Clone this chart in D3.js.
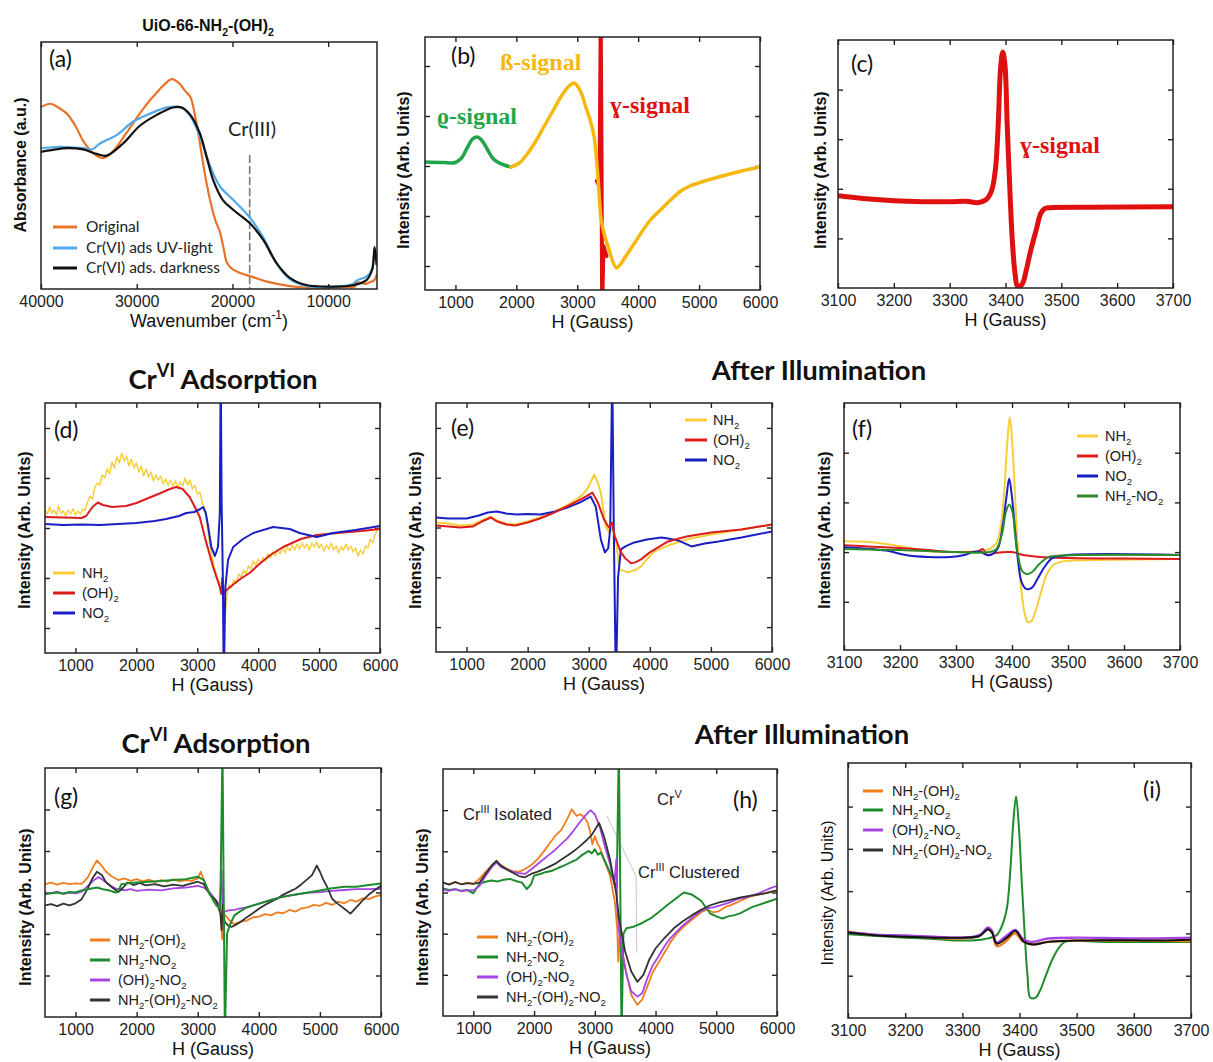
<!DOCTYPE html>
<html>
<head>
<meta charset="utf-8">
<script src="https://cdn.jsdelivr.net/npm/d3@7"></script>
<style>
  body { margin: 0; background: #fff; }
  svg { display: block; }
</style>
</head>
<body>
<div id="chart"></div>
<script>
// ---- (a) UV-vis, [wavenumber, absorbance 0..1]
const aOriginal = [[40000,0.737],[39000,0.75],[38200,0.735],[37300,0.71],[36400,0.66],[35600,0.6],[34560,0.55],[33500,0.53],[32800,0.545],[32100,0.575],[31200,0.625],[30400,0.67],[29500,0.72],[28600,0.765],[27800,0.8],[27200,0.825],[26300,0.85],[25500,0.83],[24900,0.8],[24430,0.78],[23700,0.66],[23400,0.59],[22900,0.47],[22340,0.36],[21800,0.28],[21300,0.23],[20900,0.16],[20560,0.105],[20000,0.08],[19200,0.065],[18000,0.05],[16400,0.03],[14000,0.012],[12000,0.005],[10000,0.005],[8000,0.008],[7200,0.01],[7050,0.025],[6500,0.025],[6100,0.02],[5600,0.028],[5200,0.035],[4900,0.06]];
const aUVlight = [[40000,0.57],[38500,0.575],[37300,0.575],[35600,0.57],[34700,0.565],[33800,0.59],[32100,0.623],[30400,0.677],[28600,0.71],[26800,0.735],[25400,0.735],[24400,0.7],[23400,0.617],[22300,0.495],[21300,0.415],[19900,0.36],[18200,0.29],[16800,0.21],[15400,0.105],[14000,0.04],[12300,0.012],[10500,0.008],[9000,0.01],[7400,0.02],[7000,0.035],[6000,0.05],[5400,0.08],[5150,0.15],[4900,0.12]];
const aDarkness = [[40000,0.555],[38500,0.565],[37300,0.57],[35600,0.565],[34200,0.547],[33150,0.54],[31400,0.59],[29700,0.66],[27900,0.705],[26200,0.735],[25300,0.735],[24400,0.705],[23400,0.63],[22700,0.535],[22000,0.44],[21000,0.36],[19900,0.32],[18200,0.267],[16800,0.2],[15400,0.105],[14000,0.045],[12300,0.016],[9500,0.01],[7400,0.015],[6000,0.036],[5400,0.08],[5150,0.17],[4950,0.1]];
const aCrIII = [[18200,0.54],[18200,0]];

// ---- (b) EPR signal decomposition, [H (G), intensity]
const bRho = [[500,0.08],[800,0.07],[1000,0.07],[1100,0.16],[1200,0.38],[1280,0.54],[1360,0.58],[1440,0.5],[1530,0.32],[1610,0.16],[1690,0.08],[1800,0.02],[1910,-0.02]];
const bBeta = [[1910,-0.02],[2050,0.06],[2190,0.26],[2320,0.5],[2450,0.78],[2600,1.1],[2730,1.38],[2850,1.58],[2950,1.66],[3050,1.5],[3140,1.18],[3220,0.88],[3277,0.58],[3343,-0.28],[3393,-1.08],[3450,-1.4],[3508,-1.62],[3640,-2.04],[3700,-1.98],[3800,-1.8],[3940,-1.54],[4200,-1.08],[4400,-0.84],[4550,-0.66],[4700,-0.5],[4850,-0.4],[5040,-0.32],[5320,-0.22],[5700,-0.1],[6000,-0.02]];
const bGamma = [[3320,-0.3],[3365,-0.4],[3385,2.9],[3398,0.2],[3408,-2.9],[3430,-1.6],[3480,-1.8]];

// ---- (c) gamma signal
const cGamma = [[3100,-0.14],[3150,-0.2],[3200,-0.24],[3250,-0.26],[3300,-0.26],[3330,-0.25],[3350,-0.28],[3365,-0.22],[3375,-0.04],[3382,0.4],[3387,1.3],[3391,2.4],[3395,2.76],[3399,2.5],[3403,1.3],[3407,0.2],[3412,-1.0],[3417,-1.7],[3422,-1.98],[3430,-1.92],[3437,-1.65],[3445,-1.25],[3455,-0.83],[3463,-0.5],[3470,-0.4],[3480,-0.38],[3550,-0.37],[3700,-0.36]];

// ---- (d) Cr(VI) adsorption, mono-functionalised
const dNH2 = [[500,0.36],[540,0.28],[575,0.42],[610,0.3],[650,0.36],[690,0.26],[720,0.44],[760,0.3],[800,0.34],[840,0.24],[880,0.36],[920,0.28],[960,0.38],[1000,0.26],[1040,0.34],[1080,0.28],[1120,0.38],[1160,0.36],[1200,0.52],[1240,0.64],[1280,0.58],[1320,0.82],[1360,0.9],[1400,0.86],[1440,1.06],[1480,1.0],[1520,1.18],[1560,1.08],[1600,1.32],[1640,1.2],[1680,1.42],[1720,1.3],[1760,1.5],[1800,1.34],[1840,1.44],[1880,1.24],[1920,1.38],[1960,1.2],[2000,1.3],[2040,1.12],[2080,1.24],[2120,1.04],[2160,1.18],[2200,1.02],[2240,1.12],[2280,0.94],[2320,1.06],[2360,0.96],[2400,1.04],[2440,0.88],[2480,0.98],[2520,0.86],[2560,0.96],[2600,0.84],[2640,0.94],[2680,0.8],[2720,0.92],[2760,0.84],[2800,1.0],[2840,0.86],[2880,0.96],[2920,0.78],[2960,0.86],[3000,0.68],[3040,0.72],[3080,0.52],[3120,0.4],[3160,0.06],[3200,-0.3],[3240,-0.56],[3280,-0.78],[3320,-0.96],[3360,-1.08],[3400,-1.14],[3430,-1.5],[3460,-1.72],[3490,-1.3],[3520,-1.14],[3560,-1.2],[3600,-1.04],[3640,-1.1],[3680,-0.92],[3720,-0.98],[3760,-0.84],[3800,-0.92],[3840,-0.76],[3880,-0.82],[3920,-0.66],[3960,-0.74],[4000,-0.62],[4040,-0.7],[4080,-0.58],[4120,-0.66],[4160,-0.52],[4200,-0.6],[4240,-0.48],[4280,-0.56],[4320,-0.44],[4360,-0.52],[4400,-0.4],[4440,-0.5],[4480,-0.38],[4520,-0.46],[4560,-0.34],[4600,-0.44],[4640,-0.32],[4680,-0.42],[4720,-0.3],[4760,-0.4],[4800,-0.32],[4840,-0.44],[4880,-0.3],[4920,-0.38],[4960,-0.28],[5000,-0.4],[5040,-0.32],[5080,-0.46],[5120,-0.34],[5160,-0.42],[5200,-0.3],[5240,-0.44],[5280,-0.36],[5320,-0.5],[5360,-0.38],[5400,-0.44],[5440,-0.32],[5480,-0.44],[5520,-0.36],[5560,-0.48],[5600,-0.4],[5640,-0.56],[5680,-0.44],[5720,-0.52],[5760,-0.36],[5800,-0.4],[5840,-0.22],[5880,-0.3],[5920,-0.12],[5960,-0.04],[6000,0.1]];
const dOH2 = [[500,0.22],[800,0.21],[1100,0.2],[1175,0.24],[1280,0.42],[1367,0.51],[1450,0.46],[1600,0.42],[1833,0.44],[2000,0.5],[2200,0.6],[2400,0.7],[2550,0.78],[2655,0.82],[2760,0.78],[2875,0.62],[2960,0.42],[3040,0.22],[3150,-0.3],[3260,-0.78],[3370,-1.18],[3395,-1.32],[3410,-1.0],[3430,-1.32],[3480,-1.24],[3600,-1.12],[3730,-1.0],[3860,-0.9],[4000,-0.74],[4200,-0.54],[4410,-0.38],[4700,-0.22],[4960,-0.14],[5300,-0.1],[5700,-0.06],[6000,-0.02]];
const dNO2 = [[500,0.08],[800,0.06],[1100,0.07],[1400,0.06],[1700,0.08],[2000,0.1],[2300,0.14],[2490,0.18],[2700,0.24],[2820,0.3],[2950,0.32],[3050,0.38],[3095,0.42],[3140,0.3],[3180,0.02],[3230,-0.38],[3290,-0.56],[3340,-0.38],[3370,0.3],[3385,3.2],[3400,0.5],[3420,-1.0],[3435,-3.2],[3460,-1.2],[3505,-0.64],[3590,-0.38],[3750,-0.22],[3920,-0.1],[4245,0.02],[4520,-0.02],[4680,-0.1],[4960,-0.18],[5230,-0.1],[5600,-0.04],[6000,0.04]];

// ---- (e) after illumination, mono-functionalised
const eNH2 = [[500,0.1],[700,0.08],[900,0.04],[1100,0.06],[1250,0.14],[1400,0.22],[1500,0.14],[1650,0.08],[1800,0.06],[2000,0.12],[2200,0.2],[2400,0.3],[2600,0.42],[2800,0.56],[2900,0.66],[3000,0.82],[3088,1.06],[3150,0.9],[3198,0.7],[3280,0.02],[3335,-0.1],[3400,0.0],[3440,-0.2],[3480,-0.6],[3500,-0.84],[3637,-0.9],[3750,-0.86],[3857,-0.78],[3950,-0.64],[4077,-0.48],[4300,-0.36],[4600,-0.24],[5000,-0.14],[5300,-0.08],[5600,-0.02],[6000,0.06]];
const eOH2 = [[500,0.04],[700,0.02],[900,0.0],[1100,0.02],[1250,0.12],[1400,0.2],[1500,0.12],[1650,0.06],[1800,0.04],[2000,0.1],[2200,0.18],[2400,0.28],[2600,0.4],[2800,0.52],[2950,0.62],[3060,0.7],[3150,0.5],[3250,0.16],[3330,0.0],[3380,0.1],[3420,-0.16],[3527,-0.5],[3600,-0.62],[3692,-0.72],[3760,-0.7],[3857,-0.64],[4000,-0.5],[4297,-0.28],[4600,-0.18],[5000,-0.1],[5500,-0.04],[6000,0.06]];
const eNO2 = [[500,0.2],[700,0.18],[1000,0.18],[1200,0.24],[1350,0.3],[1495,0.32],[1650,0.28],[1824,0.26],[2000,0.27],[2209,0.26],[2450,0.32],[2648,0.4],[2850,0.5],[3033,0.62],[3115,0.42],[3198,-0.24],[3264,-0.5],[3319,-0.42],[3352,-0.02],[3385,3.2],[3410,0],[3445,-3.2],[3480,-1.0],[3527,-0.44],[3600,-0.38],[3747,-0.3],[3950,-0.24],[4186,-0.2],[4300,-0.22],[4461,-0.26],[4681,-0.38],[4900,-0.32],[5121,-0.28],[5500,-0.2],[6000,-0.08]];

// ---- (f) after illumination, narrow field
const fNH2 = [[3100,0.22],[3150,0.2],[3200,0.12],[3250,0.02],[3300,0.0],[3340,0.02],[3360,0.06],[3372,0.18],[3380,0.52],[3386,1.2],[3391,2.1],[3396,2.72],[3401,2.1],[3406,1.0],[3411,0.0],[3417,-0.8],[3423,-1.25],[3428,-1.41],[3435,-1.38],[3443,-1.15],[3452,-0.8],[3462,-0.45],[3475,-0.25],[3495,-0.18],[3550,-0.16],[3700,-0.14]];
const fOH2 = [[3100,0.14],[3150,0.11],[3200,0.08],[3250,0.04],[3300,0.0],[3340,0.02],[3348,0.06],[3356,-0.06],[3370,-0.02],[3400,0.0],[3420,-0.06],[3450,-0.1],[3500,-0.12],[3600,-0.13],[3700,-0.14]];
const fNO2 = [[3100,0.1],[3150,0.06],[3180,0.02],[3210,-0.06],[3250,-0.1],[3290,-0.1],[3315,-0.06],[3330,0.0],[3345,0.0],[3355,-0.06],[3365,-0.04],[3375,0.08],[3383,0.5],[3390,1.1],[3395,1.48],[3400,1.1],[3405,0.5],[3411,-0.2],[3417,-0.6],[3425,-0.74],[3435,-0.72],[3445,-0.55],[3458,-0.3],[3472,-0.12],[3500,-0.06],[3700,-0.06]];
const fNH2NO2 = [[3100,0.06],[3200,0.04],[3300,0.0],[3360,0.0],[3372,0.06],[3382,0.36],[3389,0.8],[3395,0.96],[3401,0.8],[3406,0.3],[3412,-0.14],[3418,-0.38],[3426,-0.44],[3436,-0.4],[3448,-0.25],[3465,-0.1],[3490,-0.07],[3700,-0.06]];

// ---- (g) Cr(VI) adsorption, bi/tri-functionalised
const gNH2OH2 = [[500,0.2],[600,0.24],[700,0.19],[800,0.23],[900,0.2],[1000,0.22],[1100,0.21],[1200,0.36],[1280,0.6],[1350,0.77],[1420,0.66],[1500,0.5],[1600,0.38],[1700,0.3],[1800,0.34],[1900,0.28],[2000,0.32],[2100,0.27],[2200,0.31],[2300,0.25],[2400,0.3],[2500,0.26],[2600,0.32],[2700,0.27],[2800,0.3],[2900,0.28],[3000,0.34],[3050,0.5],[3100,0.3],[3150,0.1],[3250,-0.15],[3330,-0.3],[3380,-0.4],[3400,-1.12],[3420,-0.5],[3480,-0.6],[3550,-0.72],[3600,-0.76],[3700,-0.7],[3800,-0.68],[3900,-0.6],[4000,-0.58],[4100,-0.52],[4200,-0.55],[4300,-0.48],[4400,-0.5],[4500,-0.42],[4600,-0.46],[4700,-0.38],[4800,-0.36],[4900,-0.3],[5000,-0.32],[5100,-0.25],[5200,-0.3],[5300,-0.22],[5400,-0.26],[5500,-0.18],[5600,-0.22],[5700,-0.14],[5800,-0.16],[5900,-0.1],[6000,-0.06]];
const gNH2NO2 = [[500,-0.04],[600,-0.02],[700,0.0],[800,-0.03],[900,0.01],[1000,0.0],[1100,0.05],[1200,0.08],[1350,0.12],[1450,0.08],[1550,0.05],[1650,0.0],[1700,0.02],[1750,0.2],[1850,0.22],[2000,0.24],[2200,0.26],[2400,0.28],[2600,0.3],[2800,0.32],[3000,0.38],[3100,0.3],[3200,-0.05],[3300,-0.3],[3370,-0.4],[3405,3.5],[3425,0.0],[3445,-3.5],[3480,-1.0],[3520,-0.8],[3600,-0.55],[3700,-0.45],[3800,-0.36],[4000,-0.27],[4200,-0.18],[4400,-0.1],[4600,-0.05],[4800,0.0],[5000,0.05],[5200,0.1],[5400,0.14],[5600,0.14],[5800,0.18],[6000,0.22]];
const gOH2NO2 = [[500,0.0],[600,-0.02],[700,0.02],[800,-0.03],[900,0.0],[1000,-0.02],[1100,0.02],[1200,0.16],[1300,0.3],[1380,0.37],[1450,0.3],[1550,0.18],[1650,0.1],[1800,0.05],[1900,0.08],[2000,0.04],[2200,0.07],[2400,0.05],[2600,0.1],[2800,0.12],[3000,0.16],[3100,0.12],[3200,0.0],[3300,-0.2],[3360,-0.3],[3390,0.53],[3405,-0.3],[3430,-0.47],[3500,-0.43],[3600,-0.42],[3700,-0.38],[3800,-0.36],[4000,-0.27],[4200,-0.18],[4400,-0.1],[4600,-0.05],[4800,-0.01],[5000,0.01],[5200,0.04],[5400,0.06],[5600,0.08],[5800,0.08],[6000,0.09]];
const gAll = [[500,-0.31],[600,-0.28],[700,-0.33],[800,-0.27],[900,-0.31],[1000,-0.26],[1100,-0.16],[1200,0.1],[1280,0.35],[1350,0.5],[1430,0.42],[1500,0.25],[1600,0.12],[1700,0.01],[1780,0.12],[1850,0.24],[1950,0.18],[2050,0.23],[2150,0.17],[2300,0.2],[2450,0.15],[2600,0.19],[2750,0.16],[2900,0.22],[3000,0.26],[3100,0.2],[3200,-0.05],[3300,-0.19],[3370,-0.5],[3390,-0.91],[3410,-0.3],[3440,-0.71],[3500,-0.8],[3550,-0.83],[3620,-0.78],[3700,-0.71],[3800,-0.6],[3900,-0.5],[4000,-0.39],[4100,-0.3],[4200,-0.22],[4300,-0.15],[4400,-0.05],[4500,0.02],[4600,0.09],[4700,0.2],[4800,0.33],[4870,0.42],[4950,0.65],[5000,0.5],[5050,0.33],[5130,0.1],[5200,-0.15],[5300,-0.28],[5400,-0.39],[5500,-0.51],[5600,-0.35],[5700,-0.19],[5800,-0.05],[5900,0.06],[6000,0.16]];

// ---- (h) after illumination, bi/tri-functionalised
const hNH2OH2 = [[500,0.24],[600,0.2],[700,0.26],[800,0.2],[900,0.24],[1000,0.21],[1100,0.33],[1200,0.5],[1300,0.65],[1380,0.77],[1450,0.66],[1550,0.58],[1650,0.52],[1750,0.5],[1850,0.57],[1950,0.66],[2050,0.8],[2150,0.98],[2250,1.18],[2350,1.38],[2450,1.52],[2550,1.8],[2620,2.02],[2700,1.86],[2760,1.9],[2820,1.84],[2880,1.7],[2920,1.5],[2960,1.17],[3000,1.37],[3040,1.2],[3080,1.1],[3150,0.81],[3250,0.41],[3330,-0.23],[3370,-0.9],[3385,-1.68],[3410,-1.04],[3460,-1.5],[3520,-1.95],[3600,-2.49],[3700,-2.73],[3780,-2.6],[3860,-2.3],[3950,-1.95],[4050,-1.7],[4150,-1.45],[4250,-1.2],[4350,-1.0],[4450,-0.85],[4550,-0.72],[4650,-0.6],[4750,-0.48],[4850,-0.42],[4950,-0.48],[5050,-0.45],[5150,-0.35],[5250,-0.3],[5400,-0.2],[5550,-0.1],[5700,-0.05],[5850,0.0],[6000,0.05]];
const hNH2NO2 = [[500,0.1],[600,0.06],[700,0.08],[800,0.04],[900,0.06],[1000,-0.02],[1100,0.21],[1200,0.26],[1300,0.29],[1400,0.27],[1500,0.31],[1600,0.33],[1700,0.28],[1800,0.24],[1880,0.08],[1950,0.2],[2000,0.41],[2100,0.45],[2200,0.5],[2300,0.53],[2400,0.6],[2500,0.66],[2600,0.73],[2700,0.8],[2800,0.92],[2900,1.01],[2950,0.95],[3000,1.05],[3050,0.92],[3100,0.97],[3200,0.65],[3300,0.33],[3360,0.1],[3395,3.5],[3420,0.0],[3440,-3.5],[3470,-1.0],[3520,-0.87],[3640,-0.83],[3780,-0.74],[3917,-0.63],[4050,-0.48],[4190,-0.31],[4330,-0.15],[4465,0.0],[4600,-0.05],[4750,-0.2],[4900,-0.51],[5000,-0.58],[5100,-0.63],[5200,-0.58],[5300,-0.55],[5400,-0.5],[5500,-0.42],[5600,-0.35],[5700,-0.3],[5800,-0.25],[5900,-0.2],[6000,-0.15]];
const hOH2NO2 = [[500,0.07],[600,0.04],[700,0.08],[800,0.03],[900,0.06],[1000,0.05],[1100,0.16],[1200,0.4],[1300,0.61],[1380,0.73],[1450,0.62],[1550,0.56],[1650,0.5],[1750,0.47],[1850,0.45],[1950,0.56],[2050,0.68],[2150,0.8],[2250,0.92],[2350,1.04],[2450,1.18],[2550,1.32],[2650,1.5],[2750,1.7],[2850,1.88],[2930,2.0],[3000,1.9],[3080,1.6],[3150,1.2],[3250,0.7],[3320,0.2],[3355,0.81],[3370,-0.4],[3400,-0.96],[3450,-1.44],[3520,-2.0],[3600,-2.4],[3700,-2.53],[3780,-2.45],[3860,-2.1],[3950,-1.78],[4050,-1.55],[4150,-1.3],[4250,-1.1],[4350,-0.95],[4450,-0.8],[4550,-0.68],[4650,-0.55],[4750,-0.45],[4850,-0.38],[4950,-0.36],[5050,-0.32],[5200,-0.25],[5350,-0.16],[5500,-0.11],[5700,-0.02],[5850,0.08],[6000,0.16]];
const hAll = [[500,0.24],[600,0.19],[700,0.25],[800,0.2],[900,0.23],[1000,0.21],[1100,0.24],[1200,0.45],[1300,0.65],[1380,0.77],[1450,0.66],[1550,0.56],[1650,0.48],[1750,0.4],[1850,0.37],[1950,0.45],[2050,0.5],[2150,0.56],[2250,0.63],[2350,0.7],[2450,0.8],[2550,0.9],[2650,1.0],[2750,1.12],[2850,1.25],[2950,1.4],[3000,1.52],[3070,1.69],[3150,1.37],[3250,0.81],[3350,0.0],[3400,-0.63],[3450,-1.05],[3500,-1.44],[3600,-1.92],[3700,-2.17],[3800,-2.0],[3900,-1.62],[4000,-1.36],[4150,-1.1],[4300,-0.87],[4450,-0.7],[4600,-0.55],[4750,-0.42],[4900,-0.31],[5050,-0.24],[5200,-0.19],[5400,-0.12],[5600,-0.07],[5800,-0.02],[6000,0.05]];
const hLeader = [[3200,1.85],[3680,0.4],[3690,-1.45]];

// ---- (i) after illumination, narrow field
const iNH2OH2 = [[3100,0.04],[3150,-0.04],[3200,-0.06],[3250,-0.1],[3300,-0.12],[3330,-0.05],[3345,0.1],[3352,0.02],[3360,-0.3],[3375,-0.2],[3392,0.0],[3405,-0.18],[3420,-0.26],[3450,-0.2],[3500,-0.17],[3600,-0.17],[3700,-0.18]];
const iNH2NO2 = [[3100,-0.02],[3150,-0.06],[3200,-0.1],[3250,-0.13],[3300,-0.17],[3340,-0.13],[3360,-0.04],[3370,0.2],[3378,0.6],[3384,1.5],[3389,2.6],[3394,3.24],[3399,2.5],[3404,1.2],[3409,0.0],[3414,-1.0],[3419,-1.52],[3428,-1.52],[3436,-1.35],[3446,-1.0],[3458,-0.6],[3470,-0.32],[3480,-0.2],[3550,-0.2],[3700,-0.2]];
const iOH2NO2 = [[3100,0.03],[3150,-0.03],[3200,-0.05],[3250,-0.08],[3300,-0.1],[3330,-0.04],[3345,0.14],[3352,0.06],[3360,-0.22],[3375,-0.08],[3393,0.08],[3405,-0.12],[3420,-0.2],[3450,-0.12],[3500,-0.1],[3600,-0.12],[3700,-0.1]];
const iAll = [[3100,0.02],[3150,-0.05],[3200,-0.08],[3250,-0.1],[3300,-0.1],[3330,-0.06],[3345,0.1],[3352,0.02],[3360,-0.24],[3378,-0.1],[3393,0.06],[3408,-0.2],[3425,-0.26],[3450,-0.2],[3500,-0.17],[3550,-0.16],[3600,-0.16],[3650,-0.17],[3700,-0.15]];

// tick values
const wideTicks = [1000, 2000, 3000, 4000, 5000, 6000];
const narrowTicks = [3100, 3200, 3300, 3400, 3500, 3600, 3700];
const wnTicks = [40000, 30000, 20000, 10000];

// series labels
const monoLabels = ['NH_{2}', '(OH)_{2}', 'NO_{2}', 'NH_{2}-NO_{2}'];
const mixLabels = ['NH_{2}-(OH)_{2}', 'NH_{2}-NO_{2}', '(OH)_{2}-NO_{2}', 'NH_{2}-(OH)_{2}-NO_{2}'];

const SANS = '"Liberation Sans", Arial, Helvetica, sans-serif';
const CAL = 'Lato, "Open Sans", sans-serif';
const SERIF = '"Liberation Serif", "Times New Roman", serif';

const C = {
  orA: '#e8732a', blA: '#4ea9e6', bkA: '#111',
  gr: '#1fa64a', amb: '#f6b70f', rd: '#e01010',
  yel: '#f8cd3a', red: '#dc1c1c', blu: '#1a1fc4', grF: '#2b8a2b',
  org: '#f07d1e', grG: '#1e8c2c', pur: '#a545e6', blk: '#333333'
};

const svg = d3.select('#chart').append('svg')
  .attr('width', 1213).attr('height', 1062)
  .style('background', '#fff');

// text with _{sub} and ^{sup} pieces
function rich(t, str, fs) {
  const parts = str.split(/(_\{[^}]*\}|\^\{[^}]*\})/).filter(s => s.length);
  let cur = 0;
  parts.forEach(s => {
    let off = 0, txt = s, small = false;
    if (s.startsWith('_{')) { off = 0.3 * fs; txt = s.slice(2, -1); small = true; }
    else if (s.startsWith('^{')) { off = -0.42 * fs; txt = s.slice(2, -1); small = true; }
    const ts = t.append('tspan').attr('dy', off - cur).text(txt);
    if (small) ts.attr('font-size', fs * 0.66);
    cur = off;
  });
  return t;
}

function label(x, y, str, o = {}) {
  const fs = o.size || 14;
  const t = svg.append('text').attr('x', x).attr('y', y)
    .attr('font-family', o.font || SANS).attr('font-size', fs)
    .attr('font-weight', o.weight || 'normal')
    .attr('fill', o.color || '#111')
    .attr('text-anchor', o.anchor || 'start');
  if (o.rotate) t.attr('transform', `rotate(-90,${x},${y})`);
  return rich(t, str, fs);
}

function panel(p) {
  const [l, t, r, b] = p.box;
  const x = d3.scaleLinear().domain(p.xd).range([l, r]);
  const y = d3.scaleLinear().domain(p.yd).range([b, t]);
  const g = svg.append('g');
  svg.append('clipPath').attr('id', 'clip-' + p.id)
    .append('rect').attr('x', l).attr('y', t).attr('width', r - l).attr('height', b - t);

  const tidy = s => {
    s.attr('font-size', 16).attr('font-family', SANS);
    s.select('.domain').remove();
    s.selectAll('line').attr('stroke', '#222').attr('stroke-width', 1.4);
    s.selectAll('text').attr('fill', '#222');
  };
  g.append('g').attr('transform', `translate(0,${b})`)
    .call(d3.axisBottom(x).tickValues(p.xt).tickSizeInner(-5).tickSizeOuter(0).tickPadding(7).tickFormat(d3.format('d')))
    .call(tidy);
  g.append('g').attr('transform', `translate(0,${t})`)
    .call(d3.axisTop(x).tickValues(p.xt).tickSizeInner(-5).tickSizeOuter(0).tickFormat(''))
    .call(tidy);
  if (p.yt.length) {
    g.append('g').attr('transform', `translate(${l},0)`)
      .call(d3.axisLeft(y).tickValues(p.yt).tickSizeInner(-5).tickSizeOuter(0).tickFormat(''))
      .call(tidy);
    g.append('g').attr('transform', `translate(${r},0)`)
      .call(d3.axisRight(y).tickValues(p.yt).tickSizeInner(-5).tickSizeOuter(0).tickFormat(''))
      .call(tidy);
  }

  const plot = g.append('g').attr('clip-path', `url(#clip-${p.id})`);
  p.series.forEach(s => {
    const line = d3.line().x(d => x(d[0])).y(d => y(d[1]))
      .curve(s.smooth ? d3.curveCatmullRom.alpha(0.5) : d3.curveLinear);
    plot.append('path').datum(s.data)
      .attr('fill', 'none').attr('stroke', s.color)
      .attr('stroke-width', s.w || 1.8)
      .attr('stroke-linejoin', 'round').attr('stroke-linecap', 'round')
      .attr('stroke-dasharray', s.dash || null)
      .attr('d', line);
  });

  g.append('rect').attr('x', l).attr('y', t).attr('width', r - l).attr('height', b - t)
    .attr('fill', 'none').attr('stroke', '#222').attr('stroke-width', 1.5);

  label((l + r) / 2, b + 38, p.xTitle, { size: 18, anchor: 'middle' });
  label(p.yTitlePos[0], p.yTitlePos[1], p.yTitle,
    { size: 16, weight: p.yBold === false ? 'normal' : 'bold', anchor: 'middle', rotate: true });
  label(p.tag[0], p.tag[1], p.tag[2], { size: 23, font: CAL });

  if (p.legend) {
    const L = p.legend;
    L.items.forEach((it, i) => {
      const yy = L.y[i];
      svg.append('line').attr('x1', L.x[0]).attr('x2', L.x[1]).attr('y1', yy).attr('y2', yy)
        .attr('stroke', it.color).attr('stroke-width', 3);
      label(L.x[2], yy + (L.size || 14.5) * 0.35, it.text, { size: L.size || 14.5, font: L.font || SANS, color: '#222' });
    });
  }
  return { x, y, g };
}

// ---- panels
panel({
  id: 'a', box: [41, 42, 377, 289], xd: [40000, 4900], yd: [0, 1], xt: wnTicks, yt: [],
  xTitle: 'Wavenumber (cm^{-1})', yTitle: 'Absorbance (a.u.)', yTitlePos: [26, 165], tag: [49, 67, '(a)'],
  series: [
    { data: aCrIII, color: '#777', w: 1.6, dash: '7,4' },
    { data: aOriginal, color: C.orA, w: 2.2, smooth: true },
    { data: aUVlight, color: C.blA, w: 2.2, smooth: true },
    { data: aDarkness, color: C.bkA, w: 2.2, smooth: true }
  ],
  legend: { x: [53, 77, 86], y: [227, 248, 268], size: 15.5, font: CAL,
    items: [{ text: 'Original', color: C.orA }, { text: 'Cr(VI) ads UV-light', color: C.blA }, { text: 'Cr(VI) ads. darkness', color: C.bkA }] }
});
label(252, 136, 'Cr(III)', { size: 20, font: CAL, anchor: 'middle', color: '#222' });
label(208, 31, 'UiO-66-NH_{2}-(OH)_{2}', { size: 16, weight: 'bold', anchor: 'middle' });

panel({
  id: 'b', box: [425, 37, 760, 290], xd: [500, 6000], yd: [-2.48, 2.58], xt: wideTicks, yt: [-2, -1, 0, 1, 2],
  xTitle: 'H (Gauss)', yTitle: 'Intensity (Arb. Units)', yTitlePos: [409, 170], tag: [451, 64, '(b)'],
  series: [
    { data: bGamma, color: C.rd, w: 4 },
    { data: bRho, color: C.gr, w: 3.5, smooth: true },
    { data: bBeta, color: C.amb, w: 3.5, smooth: true }
  ]
});
label(500, 70, 'ß-signal', { size: 24, font: SERIF, weight: 'bold', color: C.amb });
label(437, 124, 'ϱ-signal', { size: 24, font: SERIF, weight: 'bold', color: C.gr });
label(610, 113, 'ɣ-signal', { size: 24, font: SERIF, weight: 'bold', color: C.rd });

panel({
  id: 'c', box: [838, 40, 1173, 288], xd: [3100, 3700], yd: [-2.0, 3.0], xt: narrowTicks, yt: [-1, 0, 1, 2],
  xTitle: 'H (Gauss)', yTitle: 'Intensity (Arb. Units)', yTitlePos: [826, 170], tag: [851, 72, '(c)'],
  series: [{ data: cGamma, color: C.rd, w: 5, smooth: true }]
});
label(1020, 153, 'ɣ-signal', { size: 24, font: SERIF, weight: 'bold', color: C.rd });

// row headers
const HEAD = { size: 27.5, font: CAL, weight: 'bold', anchor: 'middle' };
label(223, 389, 'Cr^{VI} Adsorption', HEAD);
label(819, 380, 'After Illumination', HEAD);
label(216, 753, 'Cr^{VI} Adsorption', HEAD);
label(802, 744, 'After Illumination', HEAD);

panel({
  id: 'd', box: [45, 403, 380, 653], xd: [500, 6000], yd: [-2.5, 2.5], xt: wideTicks, yt: [-2, -1, 0, 1, 2],
  xTitle: 'H (Gauss)', yTitle: 'Intensity (Arb. Units)', yTitlePos: [30, 530], tag: [54, 438, '(d)'],
  series: [
    { data: dNH2, color: C.yel, w: 1.4 },
    { data: dOH2, color: C.red, w: 2 },
    { data: dNO2, color: C.blu, w: 2 }
  ],
  legend: { x: [53, 75, 82], y: [573, 593, 613],
    items: [{ text: monoLabels[0], color: C.yel }, { text: monoLabels[1], color: C.red }, { text: monoLabels[2], color: C.blu }] }
});

panel({
  id: 'e', box: [436, 403, 772, 652], xd: [500, 6000], yd: [-2.5, 2.5], xt: wideTicks, yt: [-2, -1, 0, 1, 2],
  xTitle: 'H (Gauss)', yTitle: 'Intensity (Arb. Units)', yTitlePos: [421, 530], tag: [451, 436, '(e)'],
  series: [
    { data: eNH2, color: C.yel, w: 2 },
    { data: eNO2, color: C.blu, w: 2 },
    { data: eOH2, color: C.red, w: 2 }
  ],
  legend: { x: [685, 707, 713], y: [420, 440, 460],
    items: [{ text: monoLabels[0], color: C.yel }, { text: monoLabels[1], color: C.red }, { text: monoLabels[2], color: C.blu }] }
});

panel({
  id: 'f', box: [844, 403, 1180, 650], xd: [3100, 3700], yd: [-1.97, 3.0], xt: narrowTicks, yt: [-1, 0, 1, 2],
  xTitle: 'H (Gauss)', yTitle: 'Intensity (Arb. Units)', yTitlePos: [830, 530], tag: [852, 437, '(f)'],
  series: [
    { data: fNH2, color: C.yel, w: 2, smooth: true },
    { data: fOH2, color: C.red, w: 2, smooth: true },
    { data: fNO2, color: C.blu, w: 2, smooth: true },
    { data: fNH2NO2, color: C.grF, w: 2, smooth: true }
  ],
  legend: { x: [1077, 1098, 1105], y: [436, 456, 476, 496],
    items: [{ text: monoLabels[0], color: C.yel }, { text: monoLabels[1], color: C.red }, { text: monoLabels[2], color: C.blu }, { text: monoLabels[3], color: C.grF }] }
});

const mixItems = [
  { text: mixLabels[0], color: C.org }, { text: mixLabels[1], color: C.grG },
  { text: mixLabels[2], color: C.pur }, { text: mixLabels[3], color: C.blk }
];

panel({
  id: 'g', box: [45, 768, 381, 1017], xd: [500, 6000], yd: [-3, 3], xt: wideTicks, yt: [-2, -1, 0, 1, 2],
  xTitle: 'H (Gauss)', yTitle: 'Intensity (Arb. Units)', yTitlePos: [31, 907], tag: [54, 805, '(g)'],
  series: [
    { data: gNH2OH2, color: C.org, w: 1.8 },
    { data: gOH2NO2, color: C.pur, w: 1.8 },
    { data: gAll, color: C.blk, w: 1.8 },
    { data: gNH2NO2, color: C.grG, w: 2 }
  ],
  legend: { x: [90, 110, 118], y: [940, 960, 980, 1000], items: mixItems }
});

panel({
  id: 'h', box: [443, 769, 777, 1016], xd: [500, 6000], yd: [-3, 3], xt: wideTicks, yt: [-2, -1, 0, 1, 2],
  xTitle: 'H (Gauss)', yTitle: 'Intensity (Arb. Units)', yTitlePos: [428, 907], tag: [733, 808, '(h)'],
  series: [
    { data: hLeader, color: '#c8c8c8', w: 1 },
    { data: hNH2OH2, color: C.org, w: 1.8 },
    { data: hNH2NO2, color: C.grG, w: 2 },
    { data: hOH2NO2, color: C.pur, w: 1.8 },
    { data: hAll, color: C.blk, w: 1.8 }
  ],
  legend: { x: [477, 498, 506], y: [937, 957, 977, 997], items: mixItems }
});
label(463, 820, 'Cr^{III} Isolated', { size: 16.5, color: '#222' });
label(657, 805, 'Cr^{V}', { size: 16.5, color: '#222' });
label(638, 878, 'Cr^{III} Clustered', { size: 16.5, color: '#222' });

panel({
  id: 'i', box: [848, 763, 1191, 1018], xd: [3100, 3700], yd: [-2.0, 4.03], xt: narrowTicks, yt: [-1, 0, 1, 2, 3],
  xTitle: 'H (Gauss)', yTitle: 'Intensity (Arb. Units)', yTitlePos: [833, 893], yBold: false, tag: [1143, 798, '(i)'],
  series: [
    { data: iNH2NO2, color: C.grG, w: 2, smooth: true },
    { data: iNH2OH2, color: C.org, w: 2.4, smooth: true },
    { data: iOH2NO2, color: C.pur, w: 2.4, smooth: true },
    { data: iAll, color: '#111', w: 2, smooth: true }
  ],
  legend: { x: [863, 883, 892], y: [791, 810, 830, 850], items: mixItems }
});
</script>
</body>
</html>
